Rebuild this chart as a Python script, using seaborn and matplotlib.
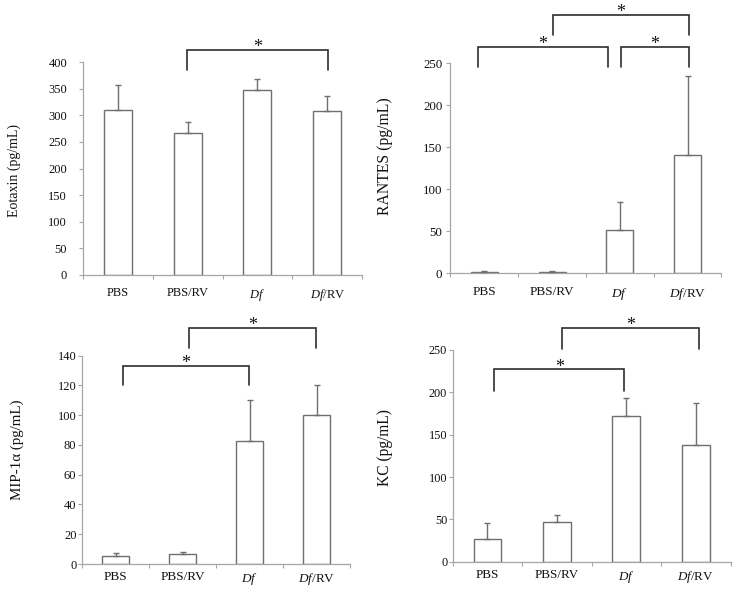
import matplotlib
matplotlib.use("Agg")
import matplotlib.pyplot as plt
import seaborn as sns
import numpy as np
import pandas as pd

# ---------------- data ----------------
groups = ["PBS", "PBS/RV", "Df", "Df/RV"]
tick_labels = ["PBS", "PBS/RV", r"$\mathit{Df}$", r"$\mathit{Df}$/RV"]

eotaxin_mean = [311, 266, 348, 309]
eotaxin_upper = [358, 287, 368, 337]

rantes_mean = [2.0, 2.0, 51.5, 140.8]
rantes_upper = [3.2, 2.8, 84.9, 234.5]

mip_mean = [5.6, 6.5, 83.0, 100.0]
mip_upper = [7.2, 8.3, 110.5, 120.0]

kc_mean = [26.4, 46.3, 171.7, 137.8]
kc_upper = [46.0, 55.0, 193.0, 187.0]

# significance brackets: (x_start, x_end, y_line, y_leg_bottom)
eotaxin_sig = [(0.99, 3.01, 423, 385)]
rantes_sig = [(-0.10, 1.83, 270, 246), (2.02, 3.02, 270, 246), (1.01, 3.02, 308, 284)]
mip_sig = [(0.11, 1.99, 133.3, 120.3), (1.10, 2.98, 158.8, 145.4)]
kc_sig = [(0.10, 1.97, 227, 202), (1.08, 3.05, 275.6, 250.8)]

# ---------------- style ----------------
sns.set_theme(style="white")
plt.rcParams["font.family"] = ["Liberation Serif", "DejaVu Serif"]
plt.rcParams["mathtext.fontset"] = "custom"
plt.rcParams["mathtext.rm"] = "Liberation Serif"
plt.rcParams["mathtext.it"] = "Liberation Serif:italic"

BAR_EDGE = "#6f6f6f"
SPINE = "#a6a6a6"
BRACKET = "#2e2e2e"
TEXT = "#111111"

fig = plt.figure(figsize=(7.35, 5.94), dpi=100)

panels = [
    dict(rect=[0.1130, 0.5375, 0.3796, 0.3576], mean=eotaxin_mean, upper=eotaxin_upper,
         ylim=400, step=50, ylabel="Eotaxin (pg/mL)", sig=eotaxin_sig,
         ytick_fs=9.0, xtick_fs=9.0, ylab_fs=10.0, ypad=8.5, xpad=8.5, ylab_pos=(-0.245, 0.493)),
    dict(rect=[0.6129, 0.5399, 0.3687, 0.3535], mean=rantes_mean, upper=rantes_upper,
         ylim=250, step=50, ylabel="RANTES (pg/mL)", sig=rantes_sig,
         ytick_fs=9.3, xtick_fs=9.5, ylab_fs=11.3, ypad=2.8, xpad=9.0, ylab_pos=(-0.242, 0.556)),
    dict(rect=[0.1116, 0.0505, 0.3652, 0.3507], mean=mip_mean, upper=mip_upper,
         ylim=140, step=20, ylabel="MIP-1α (pg/mL)", sig=mip_sig,
         ytick_fs=9.0, xtick_fs=9.5, ylab_fs=10.8, ypad=1.0, xpad=5.0, ylab_pos=(-0.242, 0.547)),
    dict(rect=[0.6159, 0.0544, 0.3780, 0.3564], mean=kc_mean, upper=kc_upper,
         ylim=250, step=50, ylabel="KC (pg/mL)", sig=kc_sig,
         ytick_fs=8.8, xtick_fs=9.4, ylab_fs=11.2, ypad=1.0, xpad=5.0, ylab_pos=(-0.243, 0.539)),
]

for p in panels:
    ax = fig.add_axes(p["rect"])
    df = pd.DataFrame({"group": groups, "value": p["mean"]})
    sns.barplot(data=df, x="group", y="value", ax=ax, color="white", saturation=1,
                edgecolor=BAR_EDGE, linewidth=1.0, width=0.4, errorbar=None)
    mean = np.array(p["mean"], dtype=float)
    upper = np.array(p["upper"], dtype=float)
    ax.errorbar(np.arange(len(groups)), mean, yerr=[np.zeros_like(mean), upper - mean],
                fmt="none", ecolor=BAR_EDGE, elinewidth=1.0, capsize=2.2, capthick=1.0, zorder=3)

    ax.set_xlim(-0.5, len(groups) - 0.5)
    ax.set_ylim(0, p["ylim"])
    ax.set_yticks(np.arange(0, p["ylim"] + 1, p["step"]))
    ax.set_xticks(range(len(groups)))
    ax.set_xticklabels(tick_labels)
    ax.set_xticks(np.arange(-0.5, len(groups), 1.0), minor=True)
    ax.tick_params(axis="x", which="major", length=0, pad=p["xpad"], labelsize=p["xtick_fs"],
                   labelcolor=TEXT)
    ax.tick_params(axis="x", which="minor", length=3, width=0.8, color=SPINE, direction="out",
                   bottom=True)
    ax.tick_params(axis="y", which="major", length=3, width=0.8, color=SPINE, direction="out",
                   left=True, pad=p["ypad"], labelsize=p["ytick_fs"], labelcolor=TEXT)
    ax.set_xlabel("")
    ax.set_ylabel(p["ylabel"], fontsize=p["ylab_fs"], color=TEXT, va="center")
    ax.yaxis.set_label_coords(*p["ylab_pos"])

    sns.despine(ax=ax)
    for s in ("left", "bottom"):
        ax.spines[s].set_color(SPINE)
        ax.spines[s].set_linewidth(0.9)

    for (x0, x1, yl, yb) in p["sig"]:
        ax.plot([x0, x0, x1, x1], [yb, yl, yl, yb], color=BRACKET, lw=1.2,
                clip_on=False, solid_joinstyle="miter", zorder=5)
        ax.annotate("*", xy=((x0 + x1) / 2, yl), xytext=(0, -1.5), textcoords="offset points",
                    ha="center", va="baseline", fontsize=13, color=TEXT, annotation_clip=False)

fig.savefig("out.png", dpi=100)
